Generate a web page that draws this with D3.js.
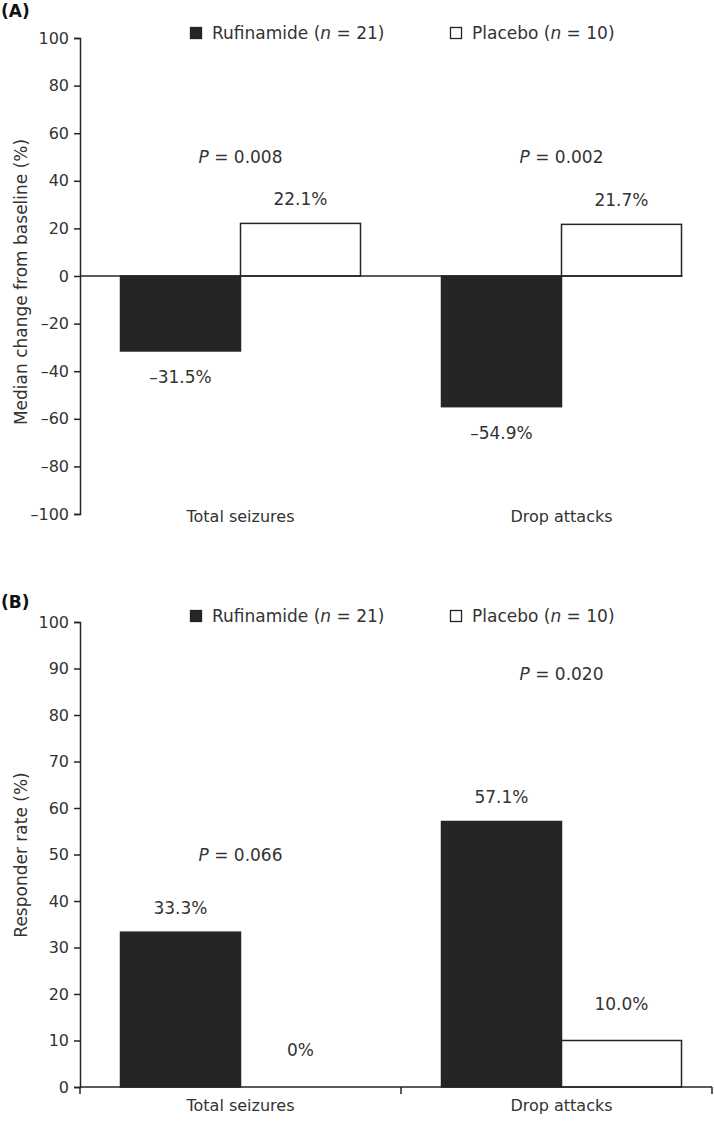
<!DOCTYPE html>
<html><head><meta charset="utf-8">
<script src="https://cdn.jsdelivr.net/npm/d3@7"></script>
<style>body{margin:0;background:#fff}text{font-family:"DejaVu Sans",sans-serif;fill:#333}</style>
</head><body>
<script>
const categories = ["Total seizures", "Drop attacks"];
const seriesNames = ["Rufinamide", "Placebo"];
const seriesN = [21, 10];
const medianRuf = [-31.5, -54.9];
const medianPla = [22.1, 21.7];
const medianP = ["0.008", "0.002"];
const respRuf = [33.3, 57.1];
const respPla = [0, 10.0];
const respP = ["0.066", "0.020"];
const ticksA = [-100, -80, -60, -40, -20, 0, 20, 40, 60, 80, 100];
const ticksB = [0, 10, 20, 30, 40, 50, 60, 70, 80, 90, 100];

const W = 714, H = 1122;
const svg = d3.select("body").append("svg").attr("width", W).attr("height", H);
const dark = "#252525";
const fmt = v => (+v < 0 ? "\u2013" + String(v).replace("-", "") : "" + v);

const x0 = d3.scaleBand().domain(categories).range([80, 722]);
const x1 = d3.scaleBand().domain(seriesNames).range([0, 240]);
const gx = c => x0(c) + x0.bandwidth() / 2 - 120;

function legend(g, y) {
  const items = [{name: seriesNames[0], n: seriesN[0], x: 190, fill: dark},
                 {name: seriesNames[1], n: seriesN[1], x: 450, fill: "#fff"}];
  items.forEach(it => {
    g.append("rect").attr("x", it.x + 0.5).attr("y", y - 11.5).attr("width", 11).attr("height", 11)
      .attr("fill", it.fill).attr("stroke", dark).attr("stroke-width", 1.3);
    const t = g.append("text").attr("x", it.x + 22).attr("y", y).attr("font-size", 17);
    t.append("tspan").text(it.name + " (");
    t.append("tspan").attr("font-style", "italic").text("n");
    t.append("tspan").text(" = " + it.n + ")");
  });
}
function pLabel(g, x, y, p) {
  const t = g.append("text").attr("x", x).attr("y", y).attr("font-size", 17).attr("text-anchor", "middle");
  t.append("tspan").attr("font-style", "italic").text("P");
  t.append("tspan").text(" = " + p);
}
function yAxis(g, y, ticks, title, cy) {
  const ax = d3.axisLeft(y).tickValues(ticks).tickSize(6).tickSizeOuter(6).tickPadding(5).tickFormat(fmt);
  const a = g.append("g").attr("transform", "translate(80,0)").call(ax);
  a.selectAll("path,line").attr("stroke", dark).attr("stroke-width", 1.5);
  a.selectAll("text").attr("font-size", 16).attr("fill", "#333").style("font-family", "DejaVu Sans, sans-serif");
  g.append("text").attr("transform", `translate(27,${cy}) rotate(-90)`).attr("text-anchor", "middle")
    .attr("font-size", 17).text(title);
}
function bars(g, y, ruf, pla) {
  categories.forEach((c, i) => {
    [[ruf[i], dark, seriesNames[0]], [pla[i], "#fff", seriesNames[1]]].forEach(([v, f, s]) => {
      g.append("rect").attr("x", gx(c) + x1(s)).attr("width", x1.bandwidth())
        .attr("y", Math.min(y(v), y(0))).attr("height", Math.abs(y(v) - y(0)))
        .attr("fill", f).attr("stroke", v === 0 ? "none" : dark).attr("stroke-width", 1.5);
    });
  });
}

// Panel A
const gA = svg.append("g");
gA.append("text").attr("x", 1).attr("y", 17).attr("font-size", 17).attr("font-weight", "bold").style("fill", "#111").text("(A)");
legend(gA, 39);
const yA = d3.scaleLinear().domain([-100, 100]).range([514, 38]);
bars(gA, yA, medianRuf, medianPla);
gA.append("line").attr("x1", 80).attr("x2", gx(categories[1]) + 241).attr("y1", yA(0)).attr("y2", yA(0))
  .attr("stroke", dark).attr("stroke-width", 1.5);
yAxis(gA, yA, ticksA, "Median change from baseline (%)", 282);
categories.forEach((c, i) => {
  const cx = x0(c) + x0.bandwidth() / 2;
  pLabel(gA, cx, 163, medianP[i]);
  gA.append("text").attr("x", cx + 60).attr("y", yA(medianPla[i]) - 18).attr("text-anchor", "middle").attr("font-size", 17).text(medianPla[i].toFixed(1) + "%");
  gA.append("text").attr("x", cx - 60).attr("y", yA(medianRuf[i]) + 32).attr("text-anchor", "middle").attr("font-size", 17).text(fmt(medianRuf[i].toFixed(1)) + "%");
  gA.append("text").attr("x", cx).attr("y", 522).attr("text-anchor", "middle").attr("font-size", 16).text(c);
});

// Panel B
const gB = svg.append("g");
gB.append("text").attr("x", 1).attr("y", 608).attr("font-size", 17).attr("font-weight", "bold").style("fill", "#111").text("(B)");
legend(gB, 622);
const yB = d3.scaleLinear().domain([0, 100]).range([1087, 622]);
bars(gB, yB, respRuf, respPla);
const xAxisEnd = 712;
gB.append("line").attr("x1", 80).attr("x2", xAxisEnd).attr("y1", yB(0)).attr("y2", yB(0)).attr("stroke", dark).attr("stroke-width", 1.5);
[x0(categories[0]), x0(categories[1]), xAxisEnd].forEach(t => {
  gB.append("line").attr("x1", t).attr("x2", t).attr("y1", yB(0)).attr("y2", yB(0) + 7).attr("stroke", dark).attr("stroke-width", 1.5);
});
yAxis(gB, yB, ticksB, "Responder rate (%)", 855);
const pY = [861, 680];
categories.forEach((c, i) => {
  const cx = x0(c) + x0.bandwidth() / 2;
  pLabel(gB, cx, pY[i], respP[i]);
  gB.append("text").attr("x", cx - 60).attr("y", yB(respRuf[i]) - 18).attr("text-anchor", "middle").attr("font-size", 17).text(respRuf[i].toFixed(1) + "%");
  const pl = respPla[i] === 0 ? "0%" : respPla[i].toFixed(1) + "%";
  gB.append("text").attr("x", cx + 60).attr("y", yB(respPla[i]) - 31).attr("text-anchor", "middle").attr("font-size", 17).text(pl);
  gB.append("text").attr("x", cx).attr("y", 1111).attr("text-anchor", "middle").attr("font-size", 16).text(c);
});
</script>
</body></html>
